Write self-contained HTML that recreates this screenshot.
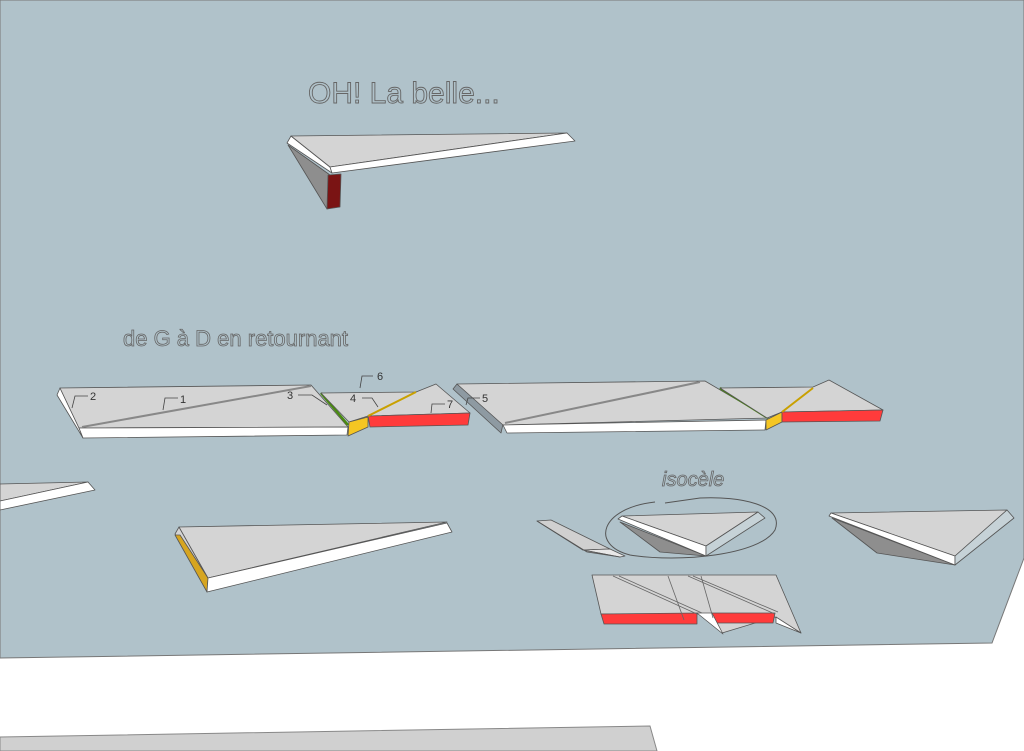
<!DOCTYPE html>
<html><head><meta charset="utf-8"><style>
html,body{margin:0;padding:0;background:#fff;}
svg{display:block;}
text{font-family:"Liberation Sans",sans-serif;}
</style></head><body>
<svg width="1024" height="751" viewBox="0 0 1024 751" xmlns="http://www.w3.org/2000/svg">
<rect width="1024" height="751" fill="#fff"/>
<polygon points="0,0 1024,0 1024,558 992,643 0,658" fill="#b0c2ca" stroke="#777" stroke-width="1"/>
<polygon points="0,737 650,726 657,751 0,751" fill="#d0d0d0" stroke="#888" stroke-width="1"/>

<g stroke="#555" stroke-width="0.8" stroke-linejoin="round">
<!-- top shelf -->
<polygon points="288,145 330,175 327,209" fill="#8e8e8e"/>
<polygon points="328,175 341,174 340,207 327,209" fill="#7a1414"/>
<polygon points="287,143 291,136 330,167 332,173" fill="#fff"/>
<polygon points="291,136 567,133 330,167" fill="#d4d4d4"/>
<polygon points="330,167 567,133 575,141 332,173" fill="#fff"/>

<!-- row piece 1 -->
<polygon points="57,395 60,388 79,428 83,438" fill="#fff"/>
<polygon points="60,388 311,385 348,427 79,428" fill="#d4d4d4"/>
<polygon points="79,428 348,427 347,435 83,438" fill="#fff"/>
<line x1="82" y1="427" x2="311" y2="386" stroke="#888" stroke-width="2"/>
<line x1="321" y1="393" x2="348" y2="425" stroke="#4a8a10" stroke-width="2.5"/>
<!-- piece 2 -->
<polygon points="321,393 416,392 436,384 470,413 368,416 349,422" fill="#d4d4d4"/>
<polygon points="349,422 368,417 368,427 348,436" fill="#f5c623"/>
<polygon points="368,416 470,413 468,425 370,427" fill="#ff3b3b"/>
<line x1="368" y1="416" x2="416" y2="392" stroke="#c9a000" stroke-width="2"/>
<!-- piece 3 -->
<polygon points="453,389 457,384 503,424 501,433" fill="#8e9aa2"/>
<polygon points="457,384 705,381 768,418 503,425" fill="#d4d4d4"/>
<polygon points="503,425 766,420 765,430 507,433" fill="#fff"/>
<line x1="505" y1="423" x2="700" y2="382" stroke="#888" stroke-width="2"/>
<line x1="720" y1="388" x2="768" y2="418" stroke="#4a8a10" stroke-width="2.5"/>
<!-- piece 4 -->
<polygon points="720,388 813,387 829,380 883,410 782,412 767,418" fill="#d4d4d4"/>
<polygon points="766,420 782,412 782,422 766,430" fill="#f5c623"/>
<polygon points="782,412 883,410 880,421 782,422" fill="#ff3b3b"/>
<line x1="782" y1="412" x2="813" y2="388" stroke="#c9a000" stroke-width="2"/>

<!-- left partial -->
<polygon points="0,484 88,482 0,501" fill="#d4d4d4"/>
<polygon points="0,501 88,482 95,490 0,510" fill="#fff"/>

<!-- bottom-left triangle -->
<polygon points="175,534 179,527 208,578" fill="#d4d4d4"/>
<polygon points="175,535 180,535 208,578 207,592" fill="#d6a520"/>
<polygon points="179,527 447,522 208,578" fill="#d4d4d4"/>
<polygon points="208,578 447,523 452,532 207,592" fill="#fff"/>

<!-- small piece -->
<polygon points="537,521 551,520 610,549 583,550" fill="#d0d0d0"/>
<polygon points="583,550 610,549 625,556 620,557" fill="#e8e8e8"/>
<polygon points="537,521 583,550 620,557 587,552" fill="#999"/>

<!-- isocele piece -->
<polygon points="620,522 706,556 660,552" fill="#8e8e8e"/>
<polygon points="622,516 758,512 706,546" fill="#d4d4d4"/>
<polygon points="618,519 622,516 706,546 706,556" fill="#fff"/>
<polygon points="706,546 758,512 765,518 706,556" fill="#c6d2d7"/>

<!-- right piece -->
<polygon points="832,518 955,565 877,553" fill="#8e8e8e"/>
<polygon points="831,513 1007,510 955,556" fill="#d4d4d4"/>
<polygon points="829,516 831,513 955,556 955,565" fill="#fff"/>
<polygon points="955,556 1007,510 1014,518 955,565" fill="#c6d2d7"/>

<!-- bottom piece -->
<polygon points="592,575 776,575 801,633 775,617 722,633 712,614 601,614" fill="#d4d4d4"/>
<polygon points="601,614 697,613 697,624 604,624" fill="#ff3b3b"/>
<polygon points="712,613 775,613 773,623 712,623" fill="#ff3b3b"/>
<polygon points="697,613 712,613 723,634" fill="#fff"/>
<polygon points="776,617 801,633 776,623" fill="#fff"/>
<g fill="none" stroke="#666" stroke-width="0.8">
<line x1="613" y1="576" x2="697" y2="614"/>
<line x1="619" y1="576" x2="702" y2="613"/>
<line x1="688" y1="576" x2="775" y2="614"/>
<line x1="693" y1="576" x2="778" y2="612"/>
<line x1="668" y1="576" x2="684" y2="620"/>
<line x1="701" y1="576" x2="713" y2="618"/>
</g>
</g>

<!-- ellipse scribble -->
<path d="M655,502 C600,508 590,545 630,555 C680,563 760,555 775,530 C785,505 740,496 700,498 L665,503" fill="none" stroke="#555" stroke-width="1"/>

<!-- leaders -->
<g fill="none" stroke="#444" stroke-width="0.8">
<path d="M88,396 L75,396 L72,408"/>
<path d="M178,398 L165,398 L163,410"/>
<path d="M298,395 L312,395 L327,405"/>
<path d="M362,398 L372,398 L378,407"/>
<path d="M373,376 L362,376 L360,388"/>
<path d="M445,404 L432,404 L431,413"/>
<path d="M480,398 L468,398 L466,405"/>
</g>
<g font-size="11" fill="#333">
<text x="90" y="400">2</text>
<text x="180" y="403">1</text>
<text x="287" y="399">3</text>
<text x="350" y="402">4</text>
<text x="377" y="380">6</text>
<text x="447" y="408">7</text>
<text x="482" y="402">5</text>
</g>

<text x="308" y="103" font-size="30" fill="#b0c2ca" stroke="#666" stroke-width="0.9">OH! La belle...</text>
<text x="123" y="346" font-size="22" fill="#b0c2ca" stroke="#666" stroke-width="0.8">de G à D en retournant</text>
<text x="662" y="486" font-size="20" font-style="italic" fill="#b0c2ca" stroke="#666" stroke-width="0.8">isocèle</text>
</svg>
</body></html>
